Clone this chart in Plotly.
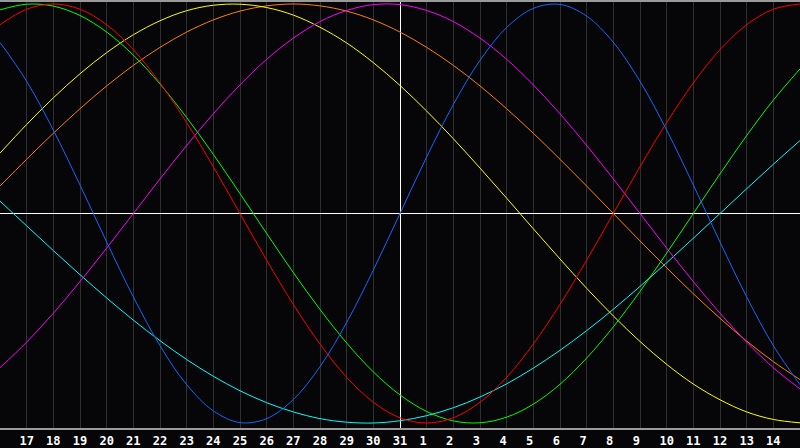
import plotly.graph_objects as go

# Day-of-month labels for the 31 plotted days (today = 31 at the centre)
days = [16, 17, 18, 19, 20, 21, 22, 23, 24, 25, 26, 27, 28, 29, 30, 31,
        1, 2, 3, 4, 5, 6, 7, 8, 9, 10, 11, 12, 13, 14, 15]
# Offset (in days) of each plotted day from today
offsets = [-15, -14, -13, -12, -11, -10, -9, -8, -7, -6, -5, -4, -3, -2, -1, 0,
           1, 2, 3, 4, 5, 6, 7, 8, 9, 10, 11, 12, 13, 14, 15]

# Cycle values (one per day)
physical = [0.817, 0.631, 0.398, 0.136, -0.136, -0.398, -0.631, -0.817, -0.942, -0.998,
            -0.979, -0.888, -0.731, -0.520, -0.270, 0.000, 0.270, 0.520, 0.731, 0.888,
            0.979, 0.998, 0.942, 0.817, 0.631, 0.398, 0.136, -0.136, -0.398, -0.631, -0.817]
emotional = [0.901, 0.975, 1.000, 0.975, 0.901, 0.782, 0.623, 0.434, 0.223, 0.000,
             -0.223, -0.434, -0.623, -0.782, -0.901, -0.975, -1.000, -0.975, -0.901,
             -0.782, -0.623, -0.434, -0.223, 0.000, 0.223, 0.434, 0.623, 0.782, 0.901,
             0.975, 1.000]
intellectual = [0.972, 0.999, 0.990, 0.945, 0.866, 0.756, 0.618, 0.458, 0.282, 0.095,
                -0.095, -0.282, -0.458, -0.618, -0.756, -0.866, -0.945, -0.990, -0.999,
                -0.972, -0.910, -0.815, -0.690, -0.541, -0.372, -0.189, 0.000, 0.189,
                0.372, 0.541, 0.690]
intuitive = [-0.736, -0.614, -0.476, -0.325, -0.165, 0.000, 0.165, 0.325, 0.476, 0.614,
             0.736, 0.837, 0.916, 0.969, 0.997, 0.997, 0.969, 0.916, 0.837, 0.736, 0.614,
             0.476, 0.325, 0.165, 0.000, -0.165, -0.325, -0.476, -0.614, -0.736, -0.837]
aesthetic = [0.288, 0.425, 0.552, 0.667, 0.768, 0.853, 0.920, 0.968, 0.994, 0.999,
             0.983, 0.947, 0.889, 0.814, 0.720, 0.611, 0.489, 0.357, 0.217, 0.073,
             -0.073, -0.217, -0.357, -0.489, -0.611, -0.720, -0.814, -0.889, -0.947,
             -0.983, -0.999]
awareness = [0.131, 0.259, 0.383, 0.500, 0.609, 0.707, 0.793, 0.866, 0.924, 0.966,
             0.991, 1.000, 0.991, 0.966, 0.924, 0.866, 0.793, 0.707, 0.609, 0.500,
             0.383, 0.259, 0.131, 0.000, -0.131, -0.259, -0.383, -0.500, -0.609,
             -0.707, -0.793]
spiritual = [0.059, -0.059, -0.177, -0.292, -0.403, -0.509, -0.607, -0.697, -0.777,
             -0.846, -0.903, -0.947, -0.979, -0.996, -1.000, -0.989, -0.965, -0.927,
             -0.876, -0.813, -0.738, -0.653, -0.559, -0.457, -0.348, -0.235, -0.118,
             0.000, 0.118, 0.235, 0.348]

series = [
    ("Spiritual", spiritual, "#00ffff"),
    ("Awareness", awareness, "#ff8000"),
    ("Aesthetic", aesthetic, "#ffff00"),
    ("Intuitive", intuitive, "#ff00ff"),
    ("Intellectual", intellectual, "#00ff00"),
    ("Emotional", emotional, "#ff0000"),
    ("Physical", physical, "#1068ff"),
]

fig = go.Figure()
for name, vals, col in series:
    fig.add_trace(go.Scatter(x=offsets, y=vals, mode="lines", name=name,
                             line=dict(color=col, width=1, shape="spline", smoothing=1.0),
                             hoverinfo="skip"))

tick_vals = offsets[1:-1]
tick_text = [str(d) if d >= 10 else str(d) + "\u00a0" for d in days[1:-1]]

bg = "#060609"
fig.update_layout(
    width=800, height=448,
    margin=dict(l=0, r=0, t=0, b=20),
    paper_bgcolor=bg, plot_bgcolor=bg,
    showlegend=False,
    xaxis=dict(range=[-15, 15], tickvals=tick_vals, ticktext=tick_text,
               showgrid=True, gridcolor="#303030", gridwidth=1,
               zeroline=True, zerolinecolor="#ffffff", zerolinewidth=1,
               showline=True, linecolor="#9a9a9a", linewidth=2, mirror=True,
               ticks="", ticklabelstandoff=1,
               tickfont=dict(family="DejaVu Sans Mono", size=12, color="#ffffff", weight="bold"),
               fixedrange=True),
    yaxis=dict(range=[-1.0238, 1.0095], showgrid=False, showticklabels=False,
               zeroline=True, zerolinecolor="#ffffff", zerolinewidth=1,
               showline=True, linecolor="#8a8a8a", linewidth=2, ticks="",
               fixedrange=True),
)

fig.write_html("out.html", config={"displayModeBar": False, "staticPlot": True},
               post_script="document.body.style.margin='0';document.body.style.background='#060609';")
